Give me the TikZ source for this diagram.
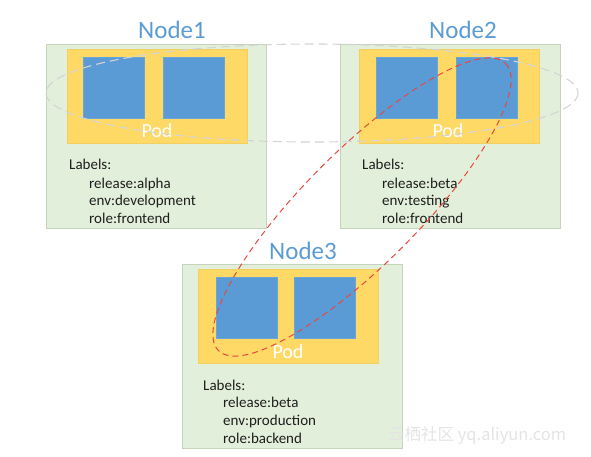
\documentclass[tikz,border=0pt]{standalone}
\usepackage{fontspec}
\setmainfont{Carlito}
\newfontfamily\cjk{Noto Sans CJK SC}
\definecolor{nodefill}{HTML}{E2EFDA}
\definecolor{nodeborder}{HTML}{C4D3BA}
\definecolor{podyellow}{HTML}{FFD966}
\definecolor{podborder}{HTML}{F2CF63}
\definecolor{ctrblue}{HTML}{5B9BD5}
\definecolor{ctrborder}{HTML}{6AA5DA}
\definecolor{titleblue}{HTML}{5B9BD5}
\definecolor{textdark}{HTML}{1E1E1E}
\definecolor{selred}{HTML}{E8473F}
\definecolor{selgray}{HTML}{D4D4D4}
\definecolor{wm}{HTML}{E4E4E4}
\begin{document}
\begin{tikzpicture}[x=1pt,y=-1pt,
  knode/.style={draw=nodeborder, fill=nodefill, line width=0.8pt, minimum width=220pt, minimum height=184pt, inner sep=0pt, anchor=north west},
  pod/.style={fill=podyellow, draw=podborder, line width=0.6pt, minimum width=180pt, minimum height=94pt, inner sep=0pt, anchor=north west},
  ctr/.style={fill=ctrblue, draw=ctrborder, line width=0.5pt, minimum width=61pt, minimum height=61pt, inner sep=0pt, anchor=north west},
  ntitle/.style={anchor=base, inner sep=0pt, text=titleblue, font=\fontsize{25}{30}\selectfont},
  podlabel/.style={anchor=base, inner sep=0pt, text=white, font=\fontsize{20}{24}\selectfont},
  lbl/.style={anchor=base west, inner sep=0pt, text=textdark, font=\fontsize{15}{18}\selectfont},
  graysel/.style={draw=selgray, line width=1.1pt, dash pattern=on 9pt off 5pt},
  redsel/.style={draw=selred, line width=1.0pt, dash pattern=on 6pt off 4pt},
]
\useasboundingbox (0,0) rectangle (591,457);

% Node1
\node[knode] (n1) at (46,44) {};
\node[ntitle] (t1) at (172,39) {Node1};
\node[pod] (p1) at (67,49) {};
\node[ctr] (c1a) at (83,57) {};
\node[ctr] (c1b) at (163,57) {};
\node[podlabel] (pl1) at (157,138) {Pod};
\node[lbl] (l1) at (69,170) {Labels:};
\node[lbl] (l1a) at (89,188) {release:alpha};
\node[lbl] (l1b) at (89,205.5) {env:development};
\node[lbl] (l1c) at (89,223) {role:frontend};

% Node2
\node[knode] (n2) at (340,44) {};
\node[ntitle] (t2) at (463,39) {Node2};
\node[pod] (p2) at (359,49) {};
\node[ctr] (c2a) at (376,57) {};
\node[ctr] (c2b) at (456,57) {};
\node[podlabel] (pl2) at (448,138) {Pod};
\node[lbl] (l2) at (362,170) {Labels:};
\node[lbl] (l2a) at (382,188) {release:beta};
\node[lbl] (l2b) at (382,205.5) {env:testing};
\node[lbl] (l2c) at (382,223) {role:frontend};

% Node3
\node[knode] (n3) at (182,264) {};
\node[ntitle] (t3) at (303,259) {Node3};
\node[pod] (p3) at (198,269) {};
\node[ctr] (c3a) at (216,277) {};
\node[ctr] (c3b) at (294,277) {};
\node[podlabel] (pl3) at (288,358) {Pod};
\node[lbl] (l3) at (203,390) {Labels:};
\node[lbl] (l3a) at (223,407.5) {release:beta};
\node[lbl] (l3b) at (223,425) {env:production};
\node[lbl] (l3c) at (223,443) {role:backend};

% selector ellipses
\draw[graysel] (312,93) ellipse [x radius=266, y radius=49];
\draw[redsel, rotate around={45:(362,207)}] (362,207) ellipse [x radius=203, y radius=57];

% watermark
\node[anchor=base west, inner sep=0pt, text=wm, font=\cjk\fontsize{16.5}{20}\selectfont] (wmk) at (388,440) {云栖社区 yq.aliyun.com};
\end{tikzpicture}
\end{document}
